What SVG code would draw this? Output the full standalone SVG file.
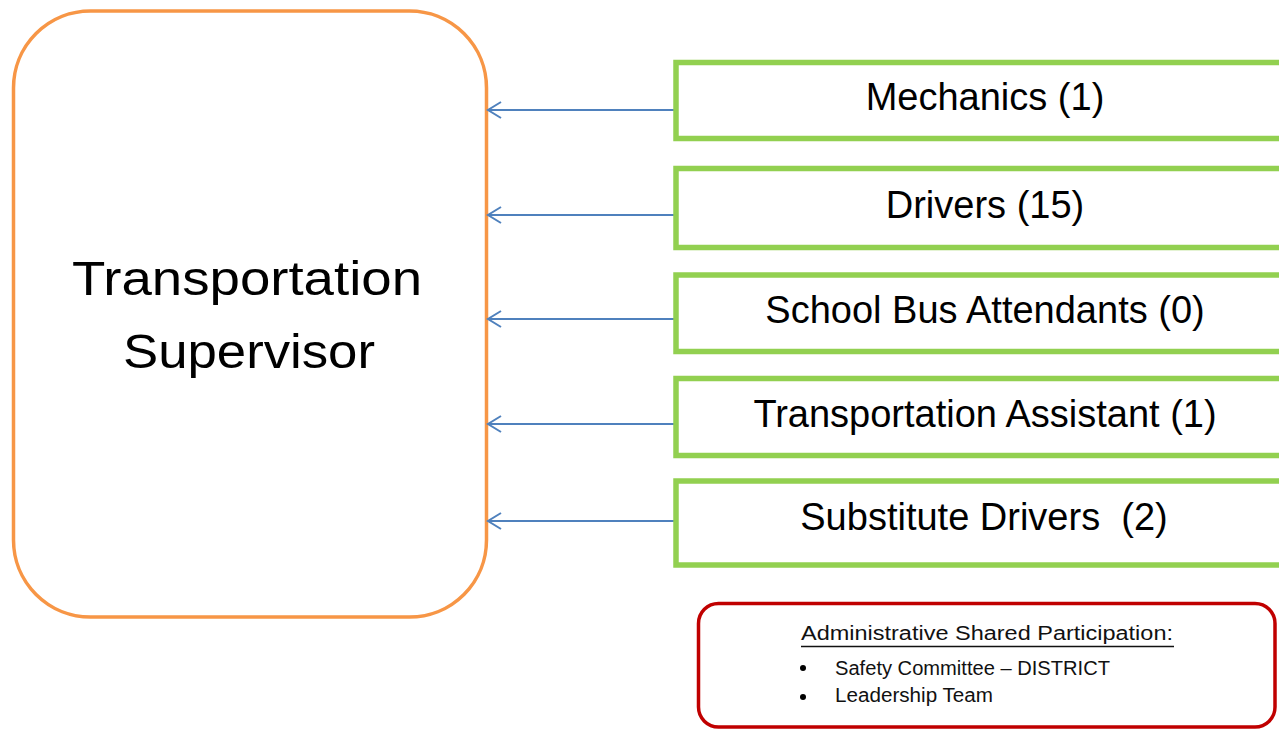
<svg xmlns="http://www.w3.org/2000/svg" width="1279" height="730" viewBox="0 0 1279 730">
<style>
.sup{fill:#fff;stroke:#F79646;stroke-width:3.5}
.box{fill:#fff;stroke:#92D050;stroke-width:5.5}
.adm{fill:#fff;stroke:#C00000;stroke-width:3.5}
.conn{stroke:#4F81BD;stroke-width:2;fill:none}
.big{font-family:"Liberation Sans",Arial,sans-serif;font-size:48px;fill:#000;text-anchor:middle}
.lbl{font-family:"Liberation Sans",Arial,sans-serif;font-size:38px;fill:#000;text-anchor:middle}
.sm{font-family:"Liberation Sans",Arial,sans-serif;font-size:20px;fill:#111}
</style>
<defs>
<marker id="arr" markerWidth="18" markerHeight="20" refX="15" refY="10" orient="auto" markerUnits="userSpaceOnUse">
<path d="M2,2 L15,10 L2,18" fill="none" stroke="#4F81BD" stroke-width="2"/>
</marker>
</defs>
<rect width="1279" height="730" fill="#fff"/>
<g id="supervisor">
<rect class="sup" x="13.5" y="11" width="473" height="606" rx="77" ry="77"/>
<text class="big" x="247" y="295" textLength="350" lengthAdjust="spacingAndGlyphs">Transportation</text>
<text class="big" x="249" y="368" textLength="252" lengthAdjust="spacingAndGlyphs">Supervisor</text>
</g>
<g id="connectors">
<line class="conn" x1="674" y1="110" x2="488" y2="110" marker-end="url(#arr)"/>
<line class="conn" x1="674" y1="215" x2="488" y2="215" marker-end="url(#arr)"/>
<line class="conn" x1="674" y1="319" x2="488" y2="319" marker-end="url(#arr)"/>
<line class="conn" x1="674" y1="424" x2="488" y2="424" marker-end="url(#arr)"/>
<line class="conn" x1="674" y1="521" x2="488" y2="521" marker-end="url(#arr)"/>
</g>
<g id="mechanics">
<rect class="box" x="676" y="62.5" width="620" height="76"/>
<text class="lbl" x="985" y="110">Mechanics (1)</text>
</g>
<g id="drivers">
<rect class="box" x="676" y="168.5" width="620" height="79"/>
<text class="lbl" x="985" y="218">Drivers (15)</text>
</g>
<g id="attendants">
<rect class="box" x="676" y="275" width="620" height="76.5"/>
<text class="lbl" x="985" y="323">School Bus Attendants (0)</text>
</g>
<g id="assistant">
<rect class="box" x="676" y="378.5" width="620" height="77"/>
<text class="lbl" x="985" y="427">Transportation Assistant (1)</text>
</g>
<g id="substitutes">
<rect class="box" x="676" y="481" width="620" height="84"/>
<text class="lbl" x="984" y="530" xml:space="preserve">Substitute Drivers  (2)</text>
</g>
<g id="admin">
<rect class="adm" x="698.5" y="603.5" width="576.5" height="123.5" rx="20" ry="20"/>
<text class="sm" x="801" y="640" font-size="22" textLength="372" lengthAdjust="spacingAndGlyphs">Administrative Shared Participation:</text>
<line x1="801" y1="646.5" x2="1174" y2="646.5" stroke="#111" stroke-width="1.5"/>
<circle cx="803" cy="668" r="3" fill="#000"/>
<text class="sm" x="835" y="675" textLength="275" lengthAdjust="spacingAndGlyphs">Safety Committee – DISTRICT</text>
<circle cx="803" cy="697" r="3" fill="#000"/>
<text class="sm" x="835" y="702" textLength="158" lengthAdjust="spacingAndGlyphs">Leadership Team</text>
</g>
</svg>
